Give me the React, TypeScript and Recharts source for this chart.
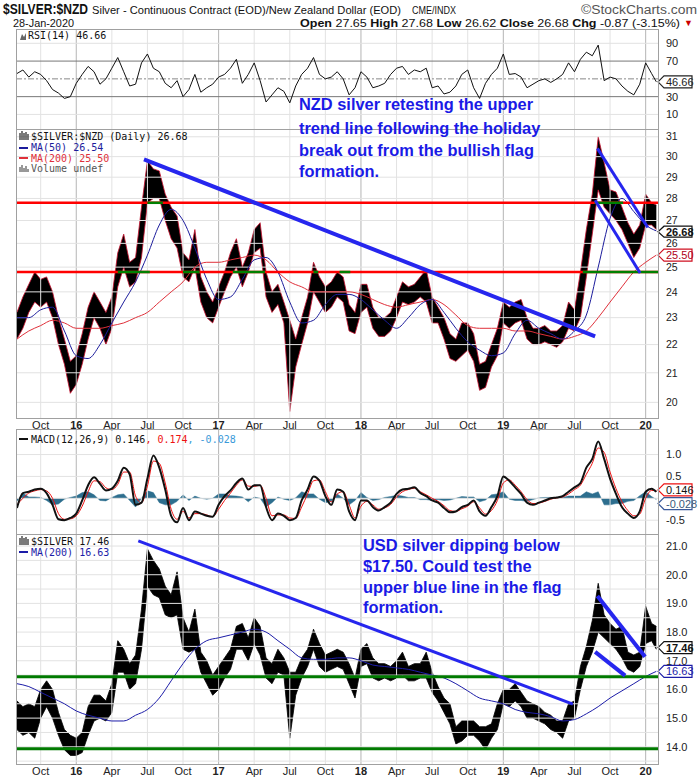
import React from 'react'
import { ComposedChart, Line, Area, XAxis, YAxis, ReferenceLine, ReferenceDot } from 'recharts'

// time axis: months counted from Jan 2015 (12 = Jan 2016)
const X_DOMAIN: [number, number] = [6.92, 61.04]
const xTicks = [9, 12, 15, 18, 21, 24, 27, 30, 33, 36, 39, 42, 45, 48, 51, 54, 57, 60]
const yearTicks = [12, 24, 36, 48, 60]
const MONTH_NAMES = ['Jan', 'Feb', 'Mar', 'Apr', 'May', 'Jun', 'Jul', 'Aug', 'Sep', 'Oct', 'Nov', 'Dec']

// half-month sample points, Aug 2015 .. 28 Jan 2020
const steps = Array.from({ length: 108 }, (_, i) => 7 + i * 0.5).concat([60.9])
// monthly points for the moving averages
const monthSteps = Array.from({ length: 54 }, (_, i) => 7 + i).concat([60.9])

const nzdLow = [
  22.2, 22.6, 23.2, 23.6, 23.4, 23.6, 23.0, 22.0, 21.3, 20.3,
  20.6, 21.3, 22.2, 23.0, 22.6, 22.0, 22.6, 24.2, 25.0, 24.2,
  24.4, 25.4, 27.8, 28.0, 28.0, 27.0, 26.2, 25.8, 24.6, 24.4,
  25.0, 23.6, 23.0, 22.8, 23.4, 24.0, 24.6, 25.0, 24.2, 24.8,
  25.6, 25.8, 23.8, 23.2, 23.5, 22.8, 19.7, 21.2, 22.0, 22.8,
  24.0, 23.6, 23.2, 23.4, 23.8, 23.6, 22.5, 22.4, 23.2, 23.4,
  22.6, 22.3, 22.3, 22.5, 23.0, 23.6, 23.5, 23.6, 23.8, 23.6,
  22.8, 22.8, 22.2, 21.5, 21.4, 21.6, 21.8, 21.4, 20.4, 20.5,
  21.2, 21.6, 22.8, 22.6, 22.8, 22.9, 22.2, 22.0, 22.0, 22.1,
  22.0, 21.9, 22.1, 22.6, 22.5, 23.0, 24.6, 26.4, 28.4, 27.6,
  27.3, 27.0, 26.6, 26.0, 25.4, 25.8, 26.8, 26.8, 26.6,
]
const nzdHigh = [
  23.2, 23.8, 24.3, 24.8, 24.5, 24.6, 24.0, 23.0, 22.2, 21.4,
  21.6, 22.4, 23.4, 24.0, 23.6, 23.2, 23.8, 25.6, 26.4, 25.2,
  25.4, 27.6, 29.8, 29.4, 29.3, 28.2, 27.6, 27.2, 25.6, 25.3,
  26.6, 24.6, 24.0, 23.6, 24.2, 24.8, 25.6, 26.2, 25.0, 25.6,
  26.6, 26.9, 24.8, 24.0, 24.3, 23.6, 22.9, 22.2, 23.0, 23.8,
  25.2, 24.6, 24.2, 24.4, 24.8, 24.6, 23.5, 23.2, 24.3, 24.3,
  23.4, 23.0, 23.0, 23.2, 23.8, 24.4, 24.2, 24.3, 24.6, 24.9,
  23.8, 23.4, 23.0, 22.4, 22.2, 22.8, 22.8, 22.4, 21.3, 21.4,
  22.0, 22.6, 23.6, 23.4, 23.6, 23.7, 23.0, 22.6, 22.6, 22.7,
  22.5, 22.5, 22.7, 23.6, 23.3, 24.8, 26.6, 28.2, 31.0, 29.7,
  28.4, 28.3, 27.6, 26.9, 26.4, 26.8, 28.2, 27.8, 27.7,
]
const nzdMa50 = [
  23.0, 23.0, 23.3, 23.4, 22.5, 21.6, 21.5, 22.0, 22.8, 23.6, 24.4, 25.5, 26.8, 27.5,
  27.0, 25.8, 24.5, 23.7, 23.8, 24.5, 25.3, 25.4, 24.8, 23.6, 22.8, 22.9, 23.5, 23.9,
  23.9, 23.7, 23.3, 22.9, 22.6, 23.0, 23.5, 23.7, 23.2, 22.6, 22.1, 21.8, 21.6, 21.7,
  22.4, 22.9, 22.6, 22.4, 22.2, 22.5, 23.1, 25.0, 27.1, 28.0, 27.4, 26.8, 26.54,
]
const nzdMa200 = [
  22.2, 22.5, 22.7, 22.9, 22.8, 22.6, 22.6, 22.6, 22.7, 22.8, 23.0, 23.2, 23.6, 24.0,
  24.4, 25.0, 25.2, 25.2, 25.3, 25.4, 25.5, 25.3, 24.8, 24.4, 24.2, 24.0, 24.0, 24.0,
  24.0, 23.9, 23.7, 23.5, 23.4, 23.5, 23.6, 23.7, 23.5, 23.1, 22.7, 22.6, 22.6, 22.6,
  22.5, 22.5, 22.4, 22.3, 22.2, 22.3, 22.5, 23.0, 23.6, 24.2, 24.8, 25.2, 25.5,
]
const rsi = [
  56, 60, 52, 58, 55, 48, 38, 34, 28, 30,
  45, 55, 64, 58, 44, 50, 62, 74, 58, 42,
  44, 68, 78, 62, 58, 45, 40, 48, 30, 38,
  55, 35, 40, 44, 52, 55, 62, 72, 45, 55,
  68, 48, 24, 32, 40, 36, 23, 42, 55, 62,
  74, 55, 50, 52, 58, 50, 32, 40, 58, 52,
  40, 42, 45, 55, 62, 64, 55, 60, 58, 62,
  40, 42, 33, 35, 42, 55, 60, 40, 28, 45,
  55, 62, 78, 55, 56, 52, 40, 44, 48, 50,
  46, 50, 55, 68, 58, 72, 80, 76, 88, 48,
  52, 50, 42, 36, 32, 44, 68, 56, 46.66,
]
const macd = [
  -0.22, 0.12, 0.15, 0.2, 0.22, 0.12, -0.15, -0.48, -0.5, -0.45,
  -0.35, -0.05, 0.3, 0.48, 0.33, 0.18, 0.22, 0.4, 0.7, 0.55,
  -0.15, -0.1, 0.45, 0.98, 0.7, 0.2, -0.4, -0.55, -0.22, -0.5,
  -0.3, -0.35, -0.4, -0.42, -0.15, 0.05, 0.18, 0.35, 0.45, 0.2,
  0.3, 0.3, -0.2, -0.5, -0.35, -0.4, -0.5, -0.45, -0.05, 0.2,
  0.5, 0.4, 0.05, -0.15, 0.2, 0.15, -0.3, -0.5, -0.05, -0.05,
  -0.2, -0.28, -0.2, -0.1, 0.1, 0.2, 0.22, 0.25, 0.12, 0.05,
  -0.05, -0.1, -0.22, -0.32, -0.3, -0.2, -0.15, -0.05, -0.3, -0.4,
  -0.2, 0.05, 0.5, 0.4, 0.25, 0.1, -0.1, -0.15, -0.1, -0.05,
  0.0, 0.02, 0.05, 0.15, 0.25, 0.35, 0.7, 0.9, 1.3, 0.9,
  0.45, 0.1, -0.2, -0.35, -0.45, -0.3, 0.15, 0.22, 0.146,
]
const signal = [
  -0.15, 0.0, 0.12, 0.17, 0.2, 0.17, 0.0, -0.35, -0.48, -0.47,
  -0.4, -0.18, 0.15, 0.4, 0.38, 0.24, 0.2, 0.32, 0.6, 0.6,
  0.05, -0.1, 0.28, 0.85, 0.8, 0.35, -0.25, -0.48, -0.3, -0.45,
  -0.35, -0.35, -0.38, -0.42, -0.25, -0.05, 0.12, 0.3, 0.42, 0.28,
  0.27, 0.3, 0.0, -0.4, -0.38, -0.38, -0.45, -0.46, -0.2, 0.1,
  0.4, 0.42, 0.15, -0.08, 0.1, 0.15, -0.15, -0.45, -0.18, -0.07,
  -0.15, -0.25, -0.22, -0.14, 0.03, 0.15, 0.2, 0.23, 0.15, 0.08,
  0.0, -0.07, -0.17, -0.28, -0.3, -0.24, -0.18, -0.08, -0.22, -0.36,
  -0.28, -0.05, 0.35, 0.42, 0.3, 0.15, -0.03, -0.12, -0.11, -0.07,
  -0.02, 0.01, 0.03, 0.1, 0.2, 0.3, 0.55, 0.8, 1.15, 1.05,
  0.6, 0.22, -0.08, -0.28, -0.4, -0.36, 0.0, 0.18, 0.174,
]
const usdLow = [
  14.6, 14.4, 14.5, 14.3, 15.0, 15.4, 15.0, 14.4, 13.9, 13.7,
  13.7, 13.8, 14.4, 14.9, 15.0, 14.9, 15.2, 16.6, 16.6, 16.0,
  16.2, 17.4, 19.6, 19.3, 19.2, 18.6, 18.5, 18.6, 17.4, 17.3,
  17.4, 16.6, 16.2, 15.8, 16.0, 16.4, 16.7, 17.4, 17.4, 17.0,
  17.6, 17.2, 16.4, 16.2, 16.6, 16.5, 14.3, 15.8, 16.4, 16.8,
  17.4, 16.8, 16.6, 16.7, 16.8, 16.7, 16.2, 15.7, 16.8, 16.9,
  16.4, 16.3, 16.4, 16.3, 16.4, 16.5, 16.3, 16.3, 16.4, 16.4,
  15.9, 15.6, 15.2, 14.8, 14.1, 14.2, 14.4, 14.4, 14.2, 13.9,
  14.3, 14.6, 15.5, 15.4, 15.6, 15.4, 15.0, 15.0, 14.9, 14.8,
  14.6, 14.5, 14.3, 14.9, 15.0, 16.0, 16.8, 17.3, 18.0, 17.8,
  17.6, 17.4, 17.1, 16.7, 16.6, 16.8, 17.6, 17.7, 17.4,
]
const usdHigh = [
  15.6, 15.4, 15.5, 15.4, 16.0, 16.3, 16.0, 15.2, 14.6, 14.4,
  14.3, 14.5, 15.4, 15.8, 15.8, 15.6, 16.2, 17.7, 17.4, 16.9,
  17.2, 18.8, 20.9, 20.5, 20.2, 19.6, 19.3, 20.1, 18.5, 18.0,
  18.8, 17.3, 17.0, 16.5, 16.8, 17.1, 17.4, 18.2, 18.3, 17.8,
  18.5, 18.2, 17.1, 16.9, 17.4, 17.1, 16.6, 16.6, 17.1, 17.4,
  18.1, 17.6, 17.2, 17.3, 17.4, 17.3, 16.9, 16.4, 17.4, 17.6,
  17.1, 16.9, 16.9, 16.8, 17.0, 17.3, 16.8, 16.9, 16.9, 17.3,
  16.6, 16.1, 15.7, 15.5, 14.7, 14.9, 14.9, 14.9, 14.7, 14.7,
  14.8, 15.5, 16.0, 16.0, 16.2, 15.9, 15.6, 15.5, 15.4, 15.2,
  15.1, 14.9, 14.9, 15.5, 15.6, 16.8, 17.5, 18.4, 19.7, 18.6,
  18.3, 18.1, 18.2, 17.3, 17.2, 17.3, 18.9, 18.3, 18.2,
]
const usdMa200 = [
  16.2, 16.1, 15.9, 15.7, 15.5, 15.25, 15.1, 15.0, 14.9, 14.9, 15.1, 15.3, 15.7, 16.3,
  16.9, 17.4, 17.7, 17.8, 17.9, 18.0, 18.1, 18.0, 17.7, 17.4, 17.1, 17.05, 17.05, 17.1,
  17.1, 17.0, 16.85, 16.8, 16.75, 16.7, 16.6, 16.5, 16.4, 16.2, 15.95, 15.7, 15.6, 15.5,
  15.3, 15.2, 15.15, 15.05, 14.9, 14.95, 15.15, 15.4, 15.7, 15.95, 16.2, 16.45, 16.63,
]

// axis ticks
const rsiTicks = [10, 30, 70, 90]
const rsiGrid = [10, 90]
const nzdTicks = [20, 21, 22, 23, 24, 25, 26, 27, 28, 29, 30, 31]
const macdTicks = [-0.5, 0.5, 1.0]
const macdGrid = [-0.5, 0, 0.5, 1.0]
const usdTicks = [13.5, 14.0, 14.5, 15.0, 15.5, 16.0, 17.0, 18.0, 18.5, 19.0, 19.5, 20.0, 20.5, 21.0]
const usdGrid = [13.5, 14, 14.5, 15, 15.5, 16, 16.5, 17, 17.5, 18, 18.5, 19, 19.5, 20, 20.5, 21]

// drawn annotations (support / resistance, trend and flag lines)
const nzdLevels = [27.8, 24.8]
const nzdGreenLow: [number, number][] = [[15.5, 18.2], [21.0, 22.4], [25.2, 27.9], [32.0, 32.4], [34.2, 35.1], [54.7, 61.04]]
const nzdGreenHigh: [number, number][] = [[18.0, 19.3], [55.7, 58.1]]
const nzdTrend = [{ x: 17.71, y: 29.87 }, { x: 55.74, y: 22.3 }]
const nzdFlagTop = [{ x: 55.93, y: 30.41 }, { x: 60.18, y: 26.69 }]
const nzdFlagBottom = [{ x: 55.74, y: 27.92 }, { x: 59.53, y: 24.76 }]
const usdLevels = [16.44, 13.93]
const usdTrend = [{ x: 17.23, y: 21.18 }, { x: 53.86, y: 15.49 }]
const usdFlagTop = [{ x: 55.93, y: 19.26 }, { x: 59.95, y: 17.14 }]
const usdFlagBottom = [{ x: 55.74, y: 17.31 }, { x: 58.27, y: 16.48 }]

const rows = steps.map((m, i) => ({
  m,
  nzd: [nzdLow[i], nzdHigh[i]],
  rsi: rsi[i],
  macd: macd[i],
  signal: signal[i],
  hist: macd[i] - signal[i],
  usd: [usdLow[i], usdHigh[i]],
}))
const maRows = monthSteps.map((m, i) => ({ m, ma50: nzdMa50[i], ma200: nzdMa200[i], usdMa: usdMa200[i] }))

const FONT = 'Arial, "Liberation Sans", sans-serif'
const MONO = '"DejaVu Sans Mono", monospace'
const GRID = '#e2e2e2'
const BLUE = '#2626ee'

function MonthTick(props: any) {
  const { x, y, payload } = props
  const m = payload.value
  const k = ((m % 12) + 12) % 12
  const isYear = k === 0
  const text = isYear ? String(2015 + m / 12).slice(2) : MONTH_NAMES[k]
  return (
    <text x={x} y={y + 11} textAnchor="middle" fontSize={11} fontFamily={FONT}
      fontWeight={isYear ? 700 : 400} fill="#222">
      {text}
    </text>
  )
}

function Tag({ cx, cy, text, border, color, bold, h = 12 }: any) {
  const x0 = cx
  const pts = `${x0},${cy} ${x0 + 6},${cy - h / 2} ${x0 + 34},${cy - h / 2} ${x0 + 34},${cy + h / 2} ${x0 + 6},${cy + h / 2}`
  return (
    <g>
      <polygon points={pts} fill="#fff" stroke={border} strokeWidth={1.2} />
      <text x={x0 + 8} y={cy + 4} fontSize={11} fontFamily={FONT} fontWeight={bold ? 700 : 400} fill={color}>
        {text}
      </text>
    </g>
  )
}

function tag(y: number, text: string, border: string, color: string, bold = false, dy = 0, h = 12) {
  return (
    <ReferenceDot x={X_DOMAIN[1]} y={y} r={0} ifOverflow="visible"
      shape={(p: any) => <Tag cx={p.cx} cy={p.cy + dy} text={text} border={border} color={color} bold={bold} h={h} />} />
  )
}

function vGrid() {
  return xTicks.map((t) => (
    <ReferenceLine key={'v' + t} x={t} stroke={yearTicks.includes(t) ? '#b5b5b5' : GRID} strokeWidth={1} />
  ))
}

const yTick = { fontSize: 11, fill: '#222', fontFamily: FONT }

function RsiPanel() {
  return (
    <ComposedChart width={700} height={100} data={rows} margin={{ top: 0, right: 0, bottom: 0, left: 16 }}>
      <XAxis dataKey="m" type="number" domain={X_DOMAIN} ticks={xTicks} allowDataOverflow hide />
      <YAxis orientation="right" width={42} domain={[-6.4, 106.1]} ticks={rsiTicks} allowDataOverflow
        tick={yTick} tickLine={false} axisLine={false} />
      {vGrid()}
      {rsiGrid.map((v) => <ReferenceLine key={v} y={v} stroke={GRID} />)}
      <ReferenceLine y={70} stroke="#777" />
      <ReferenceLine y={30} stroke="#777" />
      <ReferenceLine y={50} stroke="#888" strokeDasharray="6 2 2 2" />
      <Line dataKey="rsi" type="linear" stroke="#111" strokeWidth={1} dot={false} isAnimationActive={false} />
      {tag(46.66, '46.66', '#222', '#222')}
    </ComposedChart>
  )
}

function MainPanel() {
  return (
    <ComposedChart width={700} height={303} data={rows} margin={{ top: 0, right: 0, bottom: 0, left: 16 }}>
      <XAxis dataKey="m" type="number" domain={X_DOMAIN} ticks={xTicks} allowDataOverflow
        height={14} tickSize={0} tickMargin={0} axisLine={false} tickLine={false} tick={<MonthTick />} interval={0} />
      <YAxis orientation="right" width={42} scale="log" domain={[19.49, 31.4]} ticks={nzdTicks} allowDataOverflow
        tick={{ ...yTick, fontSize: 10.5 }} tickLine={false} axisLine={false} />
      {vGrid()}
      {nzdTicks.map((v) => <ReferenceLine key={'h' + v} y={v} stroke={GRID} />)}
      <Area dataKey="nzd" type="linear" fill="#000" fillOpacity={1} stroke="#c8102e" strokeWidth={0.8}
        isAnimationActive={false} />
      <Line data={maRows} dataKey="ma200" type="monotone" stroke="#e0303a" strokeWidth={1} dot={false} isAnimationActive={false} />
      <Line data={maRows} dataKey="ma50" type="monotone" stroke="#1c1c9c" strokeWidth={1} dot={false} isAnimationActive={false} />
      {nzdLevels.map((v) => <ReferenceLine key={'r' + v} y={v} stroke="#ff0000" strokeWidth={2.5} />)}
      {nzdGreenLow.map(([a, b]) => (
        <ReferenceLine key={'gl' + a} segment={[{ x: a, y: nzdLevels[1] }, { x: b, y: nzdLevels[1] }]} stroke="#008000" strokeWidth={2.5} />
      ))}
      {nzdGreenHigh.map(([a, b]) => (
        <ReferenceLine key={'gh' + a} segment={[{ x: a, y: nzdLevels[0] }, { x: b, y: nzdLevels[0] }]} stroke="#008000" strokeWidth={2.5} />
      ))}
      <ReferenceLine segment={nzdTrend} stroke={BLUE} strokeWidth={4} />
      <ReferenceLine segment={nzdFlagTop} stroke={BLUE} strokeWidth={3} />
      <ReferenceLine segment={nzdFlagBottom} stroke={BLUE} strokeWidth={3} />
      {tag(26.68, '26.68', '#111', '#111', true, 4, 11)}
      {tag(25.5, '25.50', '#d01020', '#b00018')}
    </ComposedChart>
  )
}

function MacdPanel() {
  return (
    <ComposedChart width={700} height={105} data={rows} margin={{ top: 0, right: 0, bottom: 0, left: 16 }}>
      <XAxis dataKey="m" type="number" domain={X_DOMAIN} ticks={xTicks} allowDataOverflow hide />
      <YAxis orientation="right" width={42} domain={[-0.816, 1.584]} ticks={macdTicks} allowDataOverflow
        tick={yTick} tickLine={false} axisLine={false} tickFormatter={(v: number) => v.toFixed(1)} />
      {vGrid()}
      {macdGrid.map((v) => <ReferenceLine key={'h' + v} y={v} stroke={GRID} />)}
      <Area dataKey="hist" type="linear" baseValue={0} fill="#2d6e8e" fillOpacity={1} stroke="#2d6e8e"
        strokeWidth={0.5} isAnimationActive={false} />
      <Line dataKey="signal" type="monotone" stroke="#ee1111" strokeWidth={1} dot={false} isAnimationActive={false} />
      <Line dataKey="macd" type="monotone" stroke="#111" strokeWidth={2} dot={false} isAnimationActive={false} />
      {tag(0.146, '0.146', '#ee1111', '#111', false, -2)}
      {tag(-0.028, '-0.028', '#3a5a9a', '#3a5a7a', false, 4)}
    </ComposedChart>
  )
}

function UsdPanel() {
  return (
    <ComposedChart width={700} height={246} data={rows} margin={{ top: 0, right: 0, bottom: 0, left: 16 }}>
      <XAxis dataKey="m" type="number" domain={X_DOMAIN} ticks={xTicks} allowDataOverflow
        height={16} tickSize={0} tickMargin={0} axisLine={false} tickLine={false} tick={<MonthTick />} interval={0} />
      <YAxis orientation="right" width={42} domain={[13.4, 21.42]} ticks={usdTicks} allowDataOverflow
        tick={yTick} tickLine={false} axisLine={false} tickFormatter={(v: number) => v.toFixed(1)} />
      {vGrid()}
      {usdGrid.map((v) => <ReferenceLine key={'h' + v} y={v} stroke={GRID} />)}
      <Area dataKey="usd" type="linear" fill="#000" fillOpacity={1} stroke="#000" strokeWidth={0.8}
        isAnimationActive={false} />
      <Line data={maRows} dataKey="usdMa" type="monotone" stroke="#1c1ca8" strokeWidth={1} dot={false} isAnimationActive={false} />
      {usdLevels.map((v) => <ReferenceLine key={'g' + v} y={v} stroke="#007a00" strokeWidth={3} />)}
      <ReferenceLine segment={usdTrend} stroke={BLUE} strokeWidth={3} />
      <ReferenceLine segment={usdFlagTop} stroke={BLUE} strokeWidth={4} />
      <ReferenceLine segment={usdFlagBottom} stroke={BLUE} strokeWidth={4} />
      {tag(17.46, '17.46', '#111', '#111', true)}
      {tag(16.63, '16.63', '#1c1ca8', '#1c1ca8')}
    </ComposedChart>
  )
}

const frame = (top: number, height: number) => (
  <div style={{
    position: 'absolute', left: 16, top, width: 643, height: height + 1, boxSizing: 'border-box',
    border: '1px solid #a0a0a0', pointerEvents: 'none',
  }} />
)

function Overlay() {
  return (
    <svg width={700} height={780} style={{ position: 'absolute', left: 0, top: 0, pointerEvents: 'none' }}>
      {/* header */}
      <text x={3} y={14} fontFamily={FONT} fontSize={14} fontWeight={700} fill="#111" textLength={85} lengthAdjust="spacingAndGlyphs">$SILVER:$NZD</text>
      <text x={92} y={14} fontFamily={FONT} fontSize={11.2} fill="#111" textLength={309} lengthAdjust="spacingAndGlyphs">Silver - Continuous Contract (EOD)/New Zealand Dollar (EOD)</text>
      <text x={412} y={14} fontFamily={FONT} fontSize={10} fill="#111" textLength={44} lengthAdjust="spacingAndGlyphs">CME/INDX</text>
      <text x={581} y={14} fontFamily={FONT} fontSize={12} fill="#555" textLength={116} lengthAdjust="spacingAndGlyphs">©StockCharts.com</text>
      <text x={13} y={27} fontFamily={FONT} fontSize={11} fill="#111" textLength={61} lengthAdjust="spacingAndGlyphs">28-Jan-2020</text>
      <text x={300} y={27} fontFamily={FONT} fontSize={11.5} fill="#111" textLength={380} lengthAdjust="spacingAndGlyphs">
        <tspan fontWeight={700}>Open</tspan> 27.65 <tspan fontWeight={700}>High</tspan> 27.68 <tspan fontWeight={700}>Low</tspan> 26.62{' '}
        <tspan fontWeight={700}>Close</tspan> 26.68 <tspan fontWeight={700}>Chg</tspan> -0.87 (-3.15%)
      </text>
      <text x={684} y={26} fontFamily={FONT} fontSize={9} fill="#cc0000">▼</text>

      {/* RSI legend */}
      <path d="M20 40 L22 34 L24 37 L26 33 L26 40 Z" fill="#666" />
      <text x={28} y={39} fontFamily={MONO} fontSize={10} fill="#111">RSI(14) 46.66</text>

      {/* main legend */}
      <path d="M20 133 v7 M22 131 v9 M24 133 v7 M26 132 v8 M28 134 v6" stroke="#222" strokeWidth={1.2} />
      <text x={31} y={140} fontFamily={MONO} fontSize={10} fill="#111">$SILVER:$NZD (Daily) 26.68</text>
      <line x1={19} x2={28} y1={148} y2={148} stroke="#1c1c9c" strokeWidth={2} />
      <text x={31} y={151} fontFamily={MONO} fontSize={10} fill="#1c1c9c">MA(50) 26.54</text>
      <line x1={19} x2={28} y1={158} y2={158} stroke="#e0303a" strokeWidth={2} />
      <text x={31} y={161.5} fontFamily={MONO} fontSize={10} fill="#e0303a">MA(200) 25.50</text>
      <path d="M20 172 v-5 M22 172 v-7 M24 172 v-4 M26 172 v-6 M28 172 v-3" stroke="#777" strokeWidth={1.5} />
      <text x={31} y={172} fontFamily={MONO} fontSize={10} fill="#555">Volume undef</text>

      {/* MACD legend */}
      <line x1={19} x2={28} y1={439} y2={439} stroke="#111" strokeWidth={2} />
      <text x={31} y={442.5} fontFamily={MONO} fontSize={10} fill="#111">
        MACD(12,26,9) 0.146<tspan fill="#ee1111">, 0.174</tspan><tspan fill="#3a9ad9">, -0.028</tspan>
      </text>

      {/* USD legend */}
      <path d="M20 538 v7 M22 536 v9 M24 538 v7 M26 537 v8 M28 539 v6" stroke="#222" strokeWidth={1.2} />
      <text x={31} y={544.5} fontFamily={MONO} fontSize={10} fill="#111">$SILVER 17.46</text>
      <line x1={19} x2={28} y1={552} y2={552} stroke="#1c1ca8" strokeWidth={2} />
      <text x={31} y={555.5} fontFamily={MONO} fontSize={10} fill="#1c1ca8">MA(200) 16.63</text>

      {/* annotations */}
      <g fontFamily={FONT} fontWeight={700} fontSize={16.4} fill="#1a1ae6">
        <text x={299} y={110}>NZD silver retesting the upper</text>
        <text x={299} y={134}>trend line following the holiday</text>
        <text x={299} y={156}>break out from the bullish flag</text>
        <text x={299} y={177}>formation.</text>
        <text x={363} y={551}>USD silver dipping below</text>
        <text x={363} y={572}>$17.50. Could test the</text>
        <text x={363} y={593}>upper blue line in the flag</text>
        <text x={363} y={613}>formation.</text>
      </g>
    </svg>
  )
}

export default function App() {
  return (
    <div style={{ position: 'absolute', left: 0, top: 0, width: 700, height: 780, background: '#fff', overflow: 'hidden', fontFamily: FONT }}>
      <div style={{ position: 'absolute', left: 0, top: 29 }}><RsiPanel /></div>
      <div style={{ position: 'absolute', left: 0, top: 129 }}><MainPanel /></div>
      <div style={{ position: 'absolute', left: 0, top: 429 }}><MacdPanel /></div>
      <div style={{ position: 'absolute', left: 0, top: 534 }}><UsdPanel /></div>
      {frame(29, 100)}
      {frame(129, 289)}
      {frame(429, 105)}
      {frame(534, 230)}
      <Overlay />
    </div>
  )
}
